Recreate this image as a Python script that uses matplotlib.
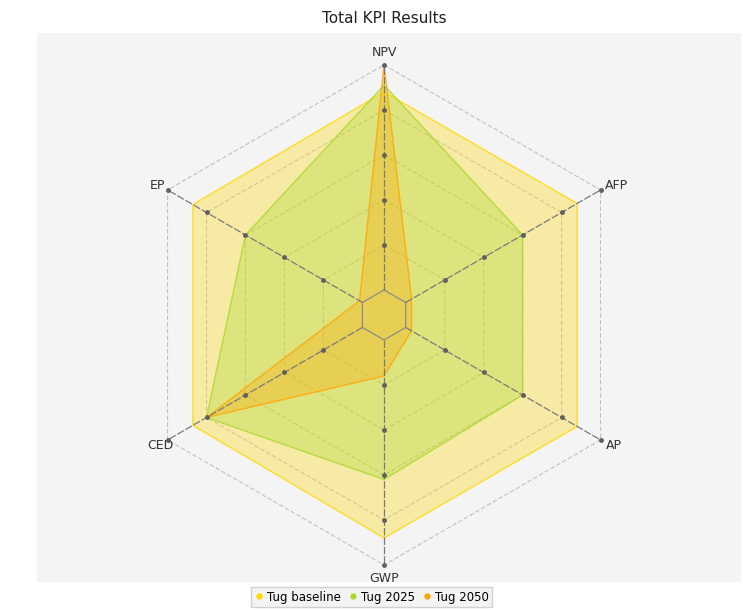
import numpy as np
import matplotlib
matplotlib.use("Agg")
import matplotlib.pyplot as plt
from matplotlib.lines import Line2D
from matplotlib.patches import Rectangle

# KPI axes, clockwise from the top
kpis = ["NPV", "AFP", "AP", "GWP", "CED", "EP"]

# normalised scores (0 = inner ring, 1 = outer ring)
tug_baseline = [0.88, 0.88, 0.88, 0.88, 0.87, 0.87]
tug_2025 = [0.91, 0.60, 0.60, 0.62, 0.80, 0.60]
tug_2050 = [1.00, 0.03, 0.03, 0.16, 0.80, 0.015]

series_names = ["Tug baseline", "Tug 2025", "Tug 2050"]
series_colors = ["#FFD700", "#A8D82A", "#FFA500"]
rings = [0.0, 0.2, 0.4, 0.6, 0.8, 1.0]

fig = plt.figure(figsize=(7.43, 6.10), dpi=100)
fig.patch.set_facecolor("white")
bg = Rectangle((0.0498, 0.0459), 0.948, 0.9, transform=fig.transFigure,
               facecolor="#F4F4F4", edgecolor="none", zorder=-10)
fig.patches.append(bg)

ax = fig.add_axes([0.1804, 0.0738, 0.673, 0.8197], projection="polar")
ax.set_theta_offset(np.pi / 2)
ax.set_theta_direction(-1)
ax.set_rlim(0, 1)
ax.set_rorigin(-0.111)
ax.axis("off")

n = len(kpis)
theta = np.linspace(0, 2 * np.pi, n, endpoint=False)
theta_closed = np.append(theta, theta[0])

# hexagonal grid
for r in rings:
    if r == 0:
        ax.plot(theta_closed, [r] * (n + 1), color="#8C8C8C", lw=0.9, clip_on=False, zorder=4)
    else:
        ax.plot(theta_closed, [r] * (n + 1), color="#C0C0C0", lw=0.8,
                linestyle=(0, (4, 2)), clip_on=False, zorder=1)

# spokes with dots at the rings
for t in theta:
    ax.plot([t, t], [0, 1], color="#7A7A7A", lw=0.9, linestyle=(0, (6, 1.5)),
            clip_on=False, zorder=5)
    ax.plot([t] * 5, rings[1:], "o", color="#606060", ms=2.5, clip_on=False, zorder=5)

# series
for vals, color, name in zip([tug_baseline, tug_2025, tug_2050], series_colors, series_names):
    v = np.append(vals, vals[0])
    ax.fill(theta_closed, v, color=color, alpha=0.32, lw=0, zorder=2, clip_on=False)
    ax.plot(theta_closed, v, color=color, lw=1.0, alpha=0.8, zorder=3, clip_on=False)

# axis labels, offset in points from the outer dot
label_pos = {
    "NPV": (0, 4, "center", "bottom"),
    "AFP": (3, 3, "left", "center"),
    "AP": (4, -4, "left", "center"),
    "GWP": (0, -5, "center", "top"),
    "CED": (-5, -4, "center", "center"),
    "EP": (-2, 3, "right", "center"),
}
for t, k in zip(theta, kpis):
    dx, dy, ha, va = label_pos[k]
    ax.annotate(k, xy=(t, 1), xytext=(dx, dy), textcoords="offset points",
                ha=ha, va=va, fontsize=9, color="#333333", annotation_clip=False)

fig.text(0.517, 0.97, "Total KPI Results", ha="center", va="center", fontsize=11, color="#222222")

handles = [Line2D([0], [0], marker="o", color="none", markerfacecolor=c, markeredgecolor=c,
                  markersize=3.5) for c in series_colors]
leg = fig.legend(handles, series_names, loc="lower center", bbox_to_anchor=(0.5, -0.005),
                 ncol=3, fontsize=8.5, frameon=True, fancybox=False, handlelength=0.8,
                 handletextpad=0.3, columnspacing=0.6, borderpad=0.3)
leg.get_frame().set_facecolor("#F0F0F0")
leg.get_frame().set_edgecolor("#C8C8C8")

fig.savefig("out.png", dpi=100)
